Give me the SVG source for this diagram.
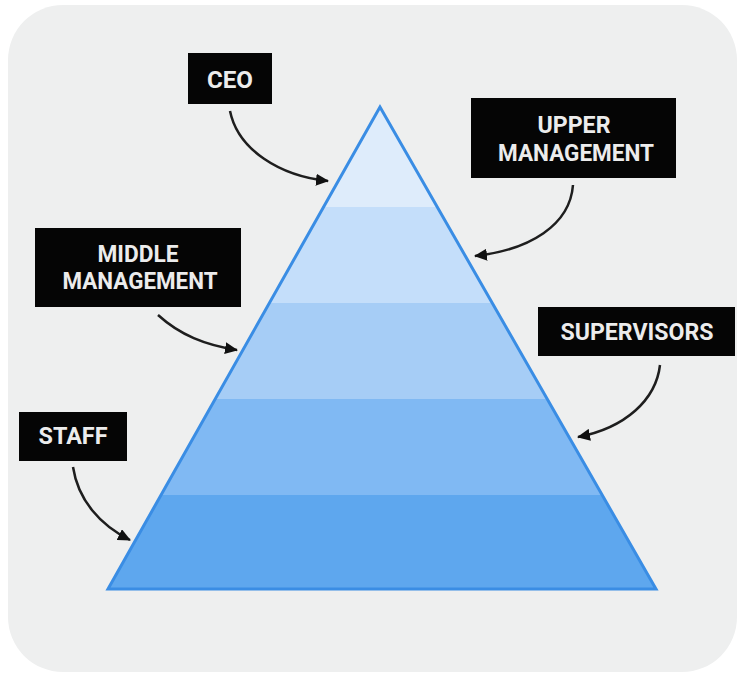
<svg xmlns="http://www.w3.org/2000/svg" width="738" height="673" viewBox="0 0 738 673">
  <defs>
    <style>
      .box { fill: #050505; }
      .lbl { font-family: Roboto, "Liberation Sans", sans-serif; font-weight: 700; font-size: 24.5px; fill: #ececec; text-anchor: middle; }
      .conn { fill: none; stroke: #1e1e1e; stroke-width: 2.5; marker-end: url(#ah); }
    </style>
    <marker id="ah" markerUnits="userSpaceOnUse" markerWidth="14" markerHeight="12" refX="12" refY="6" orient="auto">
      <path d="M0,0 L13,6 L0,12 Z" fill="#111"/>
    </marker>
    <clipPath id="tri">
      <polygon points="380,107 108,589 656,589"/>
    </clipPath>
  </defs>

  <rect x="0" y="0" width="738" height="673" fill="#ffffff"/>
  <rect x="8" y="5" width="729" height="667" rx="55" ry="55" fill="#eeefef"/>

  <g id="pyramid">
    <g clip-path="url(#tri)">
      <rect x="100" y="100" width="560" height="107" fill="#deecfb"/>
      <rect x="100" y="207" width="560" height="96" fill="#c4defa"/>
      <rect x="100" y="303" width="560" height="96" fill="#a6cdf6"/>
      <rect x="100" y="399" width="560" height="96" fill="#80b9f3"/>
      <rect x="100" y="495" width="560" height="100" fill="#5ea7ee"/>
    </g>
    <polygon points="380,107 108,589 656,589" fill="none" stroke="#3a8de4" stroke-width="3" stroke-linejoin="miter"/>
  </g>

  <g id="connectors">
    <path class="conn" d="M230,111 C238,150 280,176 328,181"/>
    <path class="conn" d="M573,185 C570,225 530,250 475,256"/>
    <path class="conn" d="M158,315 C180,335 205,345 237,350"/>
    <path class="conn" d="M660,365 C656,400 625,428 578,437"/>
    <path class="conn" d="M73,467 C78,500 100,525 130,540"/>
  </g>

  <g id="ceo">
    <rect class="box" x="188" y="53" width="84" height="51"/>
    <text class="lbl" x="230" y="88" textLength="46" lengthAdjust="spacingAndGlyphs">CEO</text>
  </g>

  <g id="upper-management">
    <rect class="box" x="471" y="98" width="205" height="80"/>
    <text class="lbl" x="574" y="133" textLength="73" lengthAdjust="spacingAndGlyphs">UPPER</text>
    <text class="lbl" x="576" y="161" textLength="156" lengthAdjust="spacingAndGlyphs">MANAGEMENT</text>
  </g>

  <g id="middle-management">
    <rect class="box" x="35" y="228" width="206" height="79"/>
    <text class="lbl" x="138" y="262" textLength="81" lengthAdjust="spacingAndGlyphs">MIDDLE</text>
    <text class="lbl" x="140" y="289" textLength="155" lengthAdjust="spacingAndGlyphs">MANAGEMENT</text>
  </g>

  <g id="supervisors">
    <rect class="box" x="538" y="307" width="197" height="49"/>
    <text class="lbl" x="637" y="340" textLength="153" lengthAdjust="spacingAndGlyphs">SUPERVISORS</text>
  </g>

  <g id="staff">
    <rect class="box" x="19" y="412" width="108" height="49"/>
    <text class="lbl" x="73" y="444" textLength="69" lengthAdjust="spacingAndGlyphs">STAFF</text>
  </g>
</svg>
